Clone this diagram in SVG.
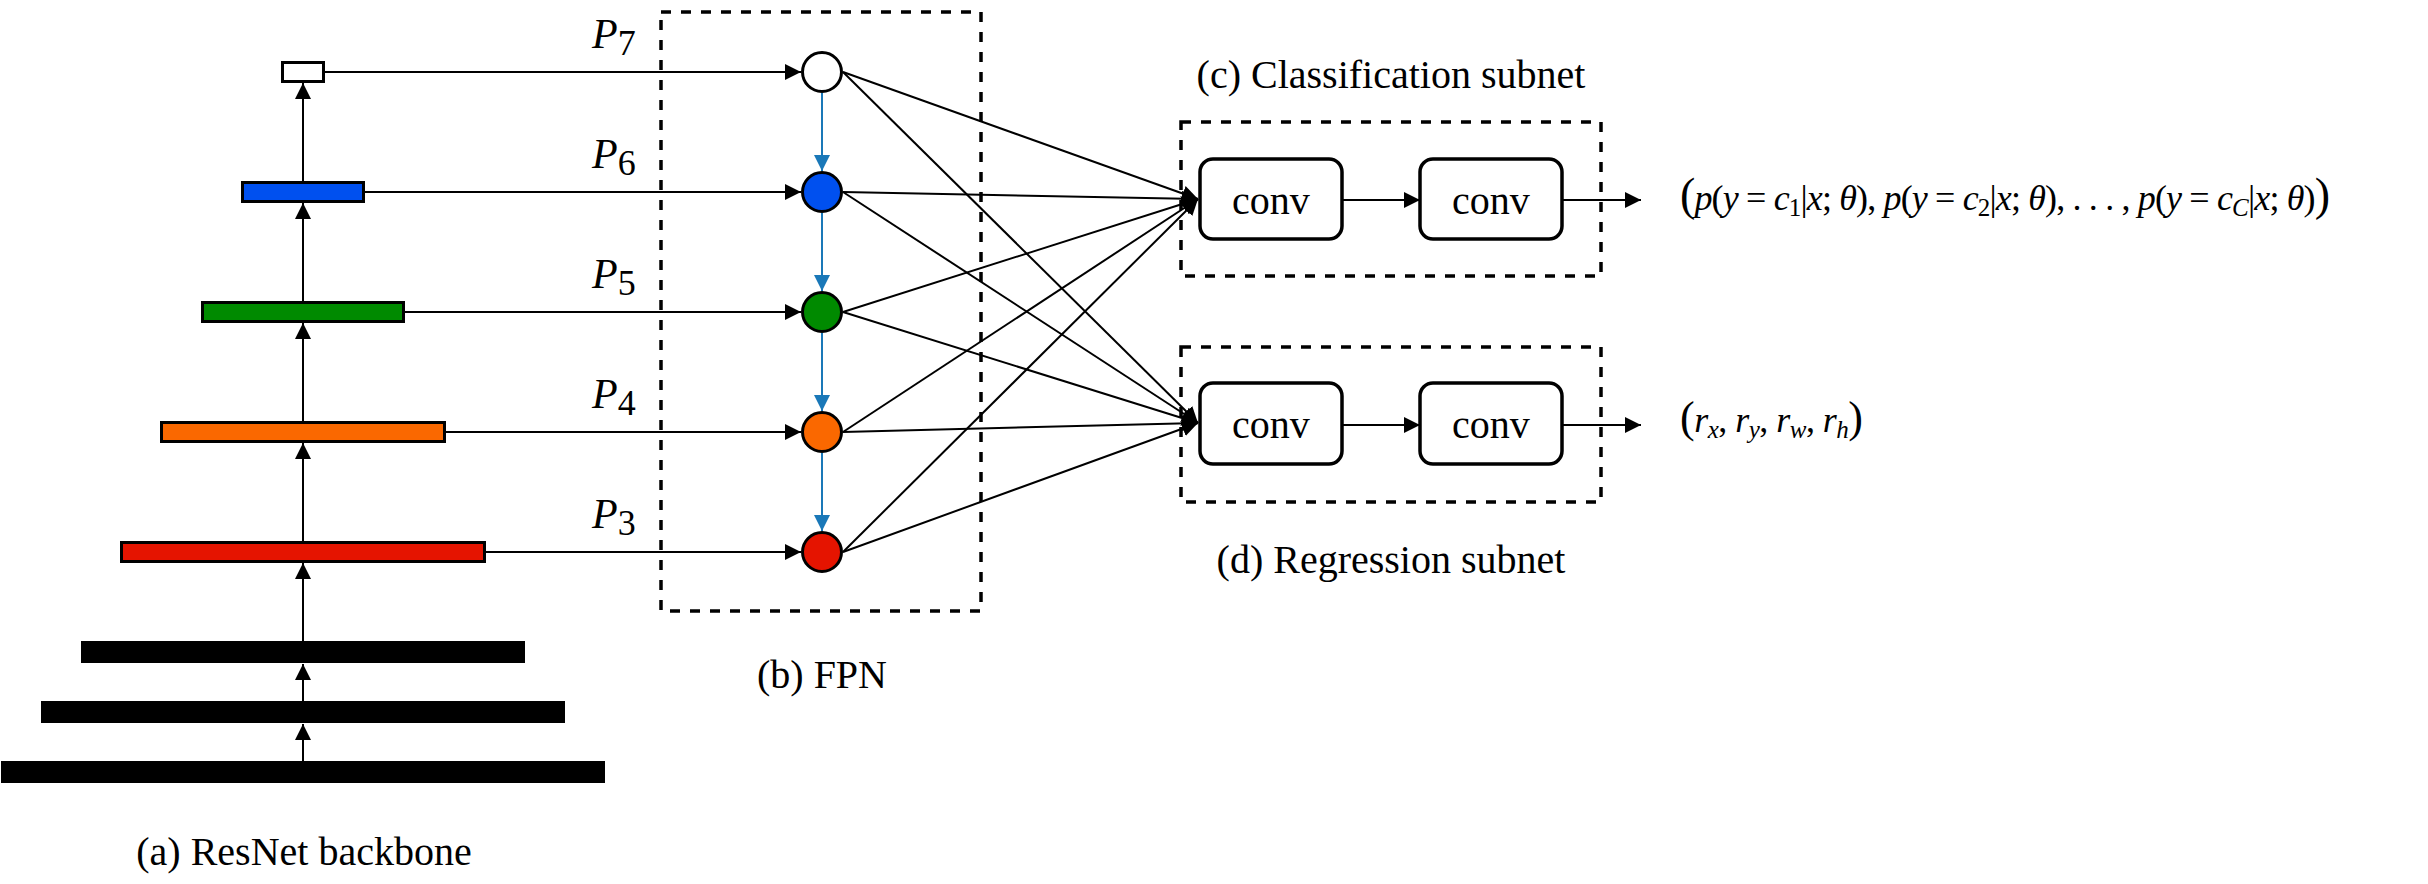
<svg xmlns="http://www.w3.org/2000/svg" width="2428" height="884" viewBox="0 0 2428 884">
<style>
.lbl{font-family:"Liberation Serif","Times New Roman",serif;font-size:40px;fill:#000}
.math{font-family:"Liberation Serif","Times New Roman",serif;font-size:36px;fill:#000}
.it{font-style:italic}
.pl{font-family:"Liberation Serif","Times New Roman",serif;font-size:42px;font-style:italic;fill:#000}
.feat{stroke:#000;stroke-width:3}
.bar{fill:#000}
.dash{fill:none;stroke:#000;stroke-width:3.5;stroke-dasharray:10 10}
.conv{fill:#fff;stroke:#000;stroke-width:3.5}
.ln{fill:none;stroke:#000;stroke-width:2}
.bl{fill:none;stroke:#1a78b8;stroke-width:2}
.node{stroke:#000;stroke-width:3}
</style>
<defs>
<marker id="ah" markerUnits="userSpaceOnUse" markerWidth="17" markerHeight="16" refX="16" refY="8" orient="auto"><path d="M0,0 L16,8 L0,16 z" fill="#000"/></marker>
<marker id="ahb" markerUnits="userSpaceOnUse" markerWidth="17" markerHeight="16" refX="16" refY="8" orient="auto"><path d="M0,0 L16,8 L0,16 z" fill="#1a78b8"/></marker>
</defs>

<g id="backbone">
<rect class="bar" x="1" y="761" width="604" height="22"/>
<rect class="bar" x="41" y="701" width="524" height="22"/>
<rect class="bar" x="81" y="641" width="444" height="22"/>
<rect class="feat" x="121.5" y="542.5" width="363" height="19" fill="#e51400"/>
<rect class="feat" x="161.5" y="422.5" width="283" height="19" fill="#fa6800"/>
<rect class="feat" x="202.5" y="302.5" width="201" height="19" fill="#008a00"/>
<rect class="feat" x="242.5" y="182.5" width="121" height="19" fill="#0050ef"/>
<rect class="feat" x="282.5" y="62.5" width="41" height="19" fill="#fff"/>
</g>

<g id="fpn">
<rect class="dash" x="661" y="12" width="320" height="599"/>
<circle class="node" cx="822" cy="72" r="19.5" fill="#fff"/>
<circle class="node" cx="822" cy="192" r="19.5" fill="#0050ef"/>
<circle class="node" cx="822" cy="312" r="19.5" fill="#008a00"/>
<circle class="node" cx="822" cy="432" r="19.5" fill="#fa6800"/>
<circle class="node" cx="822" cy="552" r="19.5" fill="#e51400"/>
</g>

<g id="cls">
<rect class="dash" x="1181" y="122" width="420" height="154"/>
<rect class="conv" x="1200" y="159" width="142" height="80" rx="13"/>
<rect class="conv" x="1420" y="159" width="142" height="80" rx="13"/>
<text class="lbl" x="1271" y="214" text-anchor="middle">conv</text>
<text class="lbl" x="1491" y="214" text-anchor="middle">conv</text>
</g>

<g id="reg">
<rect class="dash" x="1181" y="347" width="420" height="155"/>
<rect class="conv" x="1200" y="383" width="142" height="81" rx="13"/>
<rect class="conv" x="1420" y="383" width="142" height="81" rx="13"/>
<text class="lbl" x="1271" y="438" text-anchor="middle">conv</text>
<text class="lbl" x="1491" y="438" text-anchor="middle">conv</text>
</g>

<g id="connectors">
<line class="ln" x1="303" y1="761" x2="303" y2="724" marker-end="url(#ah)"/>
<line class="ln" x1="303" y1="701" x2="303" y2="664" marker-end="url(#ah)"/>
<line class="ln" x1="303" y1="641" x2="303" y2="563" marker-end="url(#ah)"/>
<line class="ln" x1="303" y1="541" x2="303" y2="443" marker-end="url(#ah)"/>
<line class="ln" x1="303" y1="421" x2="303" y2="323" marker-end="url(#ah)"/>
<line class="ln" x1="303" y1="301" x2="303" y2="203" marker-end="url(#ah)"/>
<line class="ln" x1="303" y1="181" x2="303" y2="83" marker-end="url(#ah)"/>
<line class="ln" x1="325" y1="72" x2="801" y2="72" marker-end="url(#ah)"/>
<line class="ln" x1="365" y1="192" x2="801" y2="192" marker-end="url(#ah)"/>
<line class="ln" x1="405" y1="312" x2="801" y2="312" marker-end="url(#ah)"/>
<line class="ln" x1="446" y1="432" x2="801" y2="432" marker-end="url(#ah)"/>
<line class="ln" x1="486" y1="552" x2="801" y2="552" marker-end="url(#ah)"/>
<line class="bl" x1="822" y1="93" x2="822" y2="171" marker-end="url(#ahb)"/>
<line class="bl" x1="822" y1="213" x2="822" y2="291" marker-end="url(#ahb)"/>
<line class="bl" x1="822" y1="333" x2="822" y2="411" marker-end="url(#ahb)"/>
<line class="bl" x1="822" y1="453" x2="822" y2="531" marker-end="url(#ahb)"/>
<line class="ln" x1="843" y1="72" x2="1198" y2="199" marker-end="url(#ah)"/>
<line class="ln" x1="843" y1="72" x2="1198" y2="423" marker-end="url(#ah)"/>
<line class="ln" x1="843" y1="192" x2="1198" y2="199" marker-end="url(#ah)"/>
<line class="ln" x1="843" y1="192" x2="1198" y2="423" marker-end="url(#ah)"/>
<line class="ln" x1="843" y1="312" x2="1198" y2="199" marker-end="url(#ah)"/>
<line class="ln" x1="843" y1="312" x2="1198" y2="423" marker-end="url(#ah)"/>
<line class="ln" x1="843" y1="432" x2="1198" y2="199" marker-end="url(#ah)"/>
<line class="ln" x1="843" y1="432" x2="1198" y2="423" marker-end="url(#ah)"/>
<line class="ln" x1="843" y1="552" x2="1198" y2="199" marker-end="url(#ah)"/>
<line class="ln" x1="843" y1="552" x2="1198" y2="423" marker-end="url(#ah)"/>
<line class="ln" x1="1342" y1="200" x2="1420" y2="200" marker-end="url(#ah)"/>
<line class="ln" x1="1562" y1="200" x2="1641" y2="200" marker-end="url(#ah)"/>
<line class="ln" x1="1342" y1="425" x2="1420" y2="425" marker-end="url(#ah)"/>
<line class="ln" x1="1562" y1="425" x2="1641" y2="425" marker-end="url(#ah)"/>
</g>

<g id="labels">
<text class="pl" x="592" y="48">P<tspan font-size="36" font-style="normal" dy="7">7</tspan></text>
<text class="pl" x="592" y="168">P<tspan font-size="36" font-style="normal" dy="7">6</tspan></text>
<text class="pl" x="592" y="288">P<tspan font-size="36" font-style="normal" dy="7">5</tspan></text>
<text class="pl" x="592" y="408">P<tspan font-size="36" font-style="normal" dy="7">4</tspan></text>
<text class="pl" x="592" y="528">P<tspan font-size="36" font-style="normal" dy="7">3</tspan></text>
<text class="lbl" x="304" y="865" text-anchor="middle">(a) ResNet backbone</text>
<text class="lbl" x="822" y="688" text-anchor="middle">(b) FPN</text>
<text class="lbl" x="1391" y="88" text-anchor="middle">(c) Classification subnet</text>
<text class="lbl" x="1391" y="573" text-anchor="middle">(d) Regression subnet</text>
<text class="math" x="1680" y="210" textLength="650" lengthAdjust="spacing"><tspan font-size="46">(</tspan><tspan class="it">p</tspan>(<tspan class="it">y</tspan> = <tspan class="it">c</tspan><tspan font-size="25" dy="6">1</tspan><tspan dy="-6">|</tspan><tspan class="it">x</tspan>; <tspan class="it">θ</tspan>), <tspan class="it">p</tspan>(<tspan class="it">y</tspan> = <tspan class="it">c</tspan><tspan font-size="25" dy="6">2</tspan><tspan dy="-6">|</tspan><tspan class="it">x</tspan>; <tspan class="it">θ</tspan>), . . . , <tspan class="it">p</tspan>(<tspan class="it">y</tspan> = <tspan class="it">c</tspan><tspan font-size="25" class="it" dy="6">C</tspan><tspan dy="-6">|</tspan><tspan class="it">x</tspan>; <tspan class="it">θ</tspan>)<tspan font-size="46">)</tspan></text>
<text class="math" x="1680" y="432" textLength="183" lengthAdjust="spacing"><tspan font-size="44">(</tspan><tspan class="it">r</tspan><tspan class="it" font-size="25" dy="6">x</tspan><tspan dy="-6">, </tspan><tspan class="it">r</tspan><tspan class="it" font-size="25" dy="6">y</tspan><tspan dy="-6">, </tspan><tspan class="it">r</tspan><tspan class="it" font-size="25" dy="6">w</tspan><tspan dy="-6">, </tspan><tspan class="it">r</tspan><tspan class="it" font-size="25" dy="6">h</tspan><tspan font-size="44" dy="-6">)</tspan></text>
</g>
</svg>
